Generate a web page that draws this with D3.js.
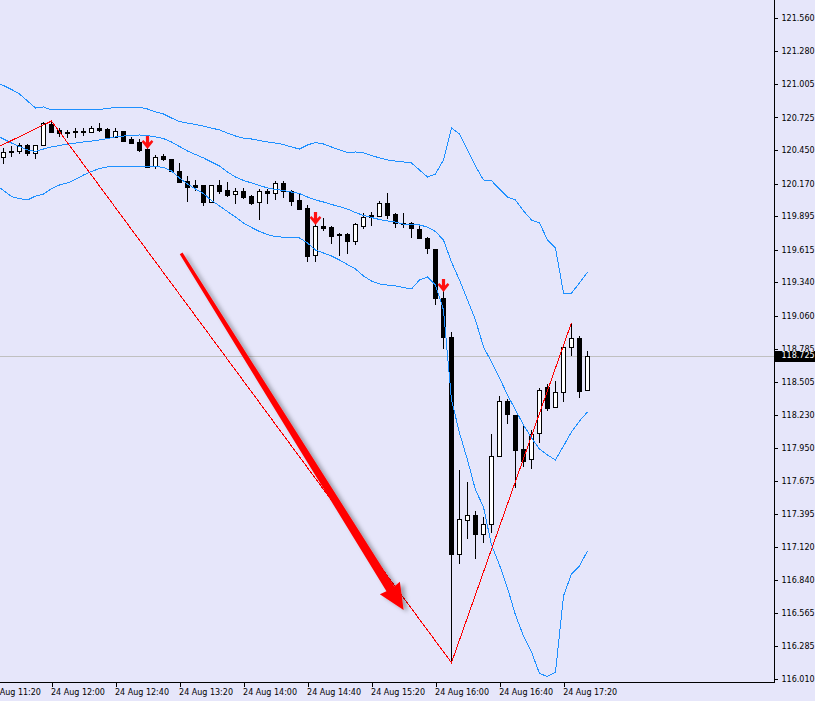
<!DOCTYPE html>
<html><head><meta charset="utf-8">
<script src="https://cdn.jsdelivr.net/npm/d3@7"></script>
<style>
html,body{margin:0;padding:0;background:#e6e6fa;overflow:hidden;}
svg{display:block;}
text{font-family:"DejaVu Sans",sans-serif;font-size:8px;fill:#000;}
</style></head><body>
<svg id="c" width="815" height="701"></svg>
<script>
const DAY = "2015-08-24";
const candleTimes = ["11:30","11:35","11:40","11:45","11:50","11:55",
"12:00","12:05","12:10","12:15","12:20","12:25","12:30","12:35","12:40","12:45","12:50","12:55",
"13:00","13:05","13:10","13:15","13:20","13:25","13:30","13:35","13:40","13:45","13:50","13:55",
"14:00","14:05","14:10","14:15","14:20","14:25","14:30","14:35","14:40","14:45","14:50","14:55",
"15:00","15:05","15:10","15:15","15:20","15:25","15:30","15:35","15:40","15:45","15:50","15:55",
"16:00","16:05","16:10","16:15","16:20","16:25","16:30","16:35","16:40","16:45","16:50","16:55",
"17:00","17:05","17:10","17:15","17:20","17:25","17:30","17:35"];
const openP = [120.395,120.443,120.443,120.494,120.424,120.491,
120.670,120.617,120.605,120.609,120.611,120.600,120.639,120.626,120.563,120.611,120.542,120.516,
120.458,120.317,120.401,120.374,120.275,120.191,120.158,120.158,120.018,120.158,120.116,120.080,
120.107,120.065,120.013,120.107,120.088,120.177,120.107,120.032,119.962,119.573,119.814,119.803,
119.746,119.746,119.685,119.816,119.903,119.900,120.004,119.914,119.839,119.839,119.788,119.713,
119.620,119.207,118.879,117.057,117.343,117.387,117.225,117.309,117.882,118.344,118.227,117.939,
117.855,118.073,118.459,118.291,118.417,118.795,118.871,118.434];
const highP = [120.468,120.485,120.508,120.502,120.494,120.689,
120.695,120.634,120.620,120.634,120.639,120.653,120.676,120.639,120.634,120.611,120.563,120.542,
120.466,120.410,120.416,120.374,120.345,120.233,120.200,120.158,120.158,120.200,120.186,120.130,
120.130,120.074,120.122,120.122,120.191,120.191,120.116,120.082,119.990,119.892,119.878,119.814,
119.757,119.757,119.841,119.925,119.934,120.023,120.093,119.920,119.925,119.847,119.830,119.725,
119.620,119.276,118.926,117.765,117.667,117.421,117.373,118.067,118.386,118.361,118.227,118.143,
118.101,118.451,118.487,118.512,118.795,119.002,118.890,118.764];
const lowP = [120.343,120.401,120.424,120.410,120.382,120.491,
120.605,120.569,120.558,120.558,120.578,120.600,120.611,120.558,120.563,120.530,120.508,120.446,
120.311,120.298,120.368,120.275,120.186,120.026,120.116,119.990,120.018,120.088,120.065,120.009,
120.046,119.998,119.872,120.009,120.040,120.060,119.990,119.959,119.522,119.522,119.780,119.673,
119.570,119.584,119.660,119.794,119.822,119.898,119.878,119.808,119.808,119.717,119.709,119.589,
119.156,118.787,116.147,116.982,117.196,117.023,117.158,117.247,117.882,118.157,117.620,117.801,
117.784,118.002,118.269,118.291,118.347,118.730,118.380,118.434];
const closeP = [120.437,120.435,120.491,120.424,120.494,120.676,
120.605,120.592,120.594,120.603,120.605,120.636,120.620,120.563,120.611,120.530,120.513,120.452,
120.311,120.395,120.374,120.275,120.186,120.141,120.144,120.018,120.158,120.110,120.074,120.107,
120.060,120.009,120.110,120.088,120.177,120.110,120.023,119.959,119.564,119.814,119.797,119.732,
119.736,119.690,119.828,119.892,119.892,120.004,119.906,119.841,119.828,119.793,119.709,119.626,
119.207,118.879,117.057,117.351,117.385,117.225,117.309,117.882,118.344,118.233,117.935,117.843,
118.065,118.437,118.288,118.417,118.795,118.871,118.431,118.725];

// Bollinger bands, one point per bar from 11:25
const bandTimes = ["11:25"].concat(candleTimes);
const bandUpper = [121.023,120.993,120.960,120.922,120.863,120.804,120.813,
120.788,120.788,120.788,120.788,120.788,120.792,120.793,120.800,120.810,120.810,120.810,120.810,
120.796,120.771,120.754,120.720,120.691,120.678,120.666,120.653,120.636,120.620,120.594,120.569,
120.552,120.544,120.531,120.519,120.510,120.498,120.477,120.460,120.494,120.515,120.502,120.477,
120.452,120.432,120.435,120.427,120.406,120.385,120.368,120.359,120.351,120.343,120.284,120.225,
120.250,120.368,120.636,120.586,120.452,120.317,120.200,120.194,120.124,120.057,120.032,119.940,
119.864,119.839,119.696,119.629,119.251,119.251,119.335,119.427];
const bandMiddle = [120.578,120.544,120.510,120.481,120.452,120.439,120.460,
120.477,120.489,120.502,120.510,120.519,120.527,120.536,120.548,120.561,120.569,120.573,120.578,
120.573,120.561,120.548,120.519,120.481,120.443,120.414,120.385,120.351,120.317,120.267,120.225,
120.196,120.175,120.154,120.133,120.120,120.112,120.099,120.086,120.057,120.032,120.015,119.994,
119.977,119.956,119.927,119.902,119.885,119.868,119.856,119.847,119.830,119.826,119.822,119.805,
119.767,119.696,119.511,119.360,119.192,119.024,118.798,118.672,118.537,118.395,118.269,118.143,
118.034,117.941,117.891,117.849,117.966,118.084,118.176,118.252];
const bandLower = [120.158,120.112,120.061,120.044,120.032,120.065,120.082,
120.128,120.158,120.175,120.204,120.242,120.271,120.296,120.309,120.313,120.317,120.317,120.317,
120.317,120.313,120.305,120.275,120.217,120.166,120.124,120.086,120.028,119.982,119.935,119.889,
119.839,119.801,119.767,119.742,119.725,119.719,119.719,119.713,119.671,119.612,119.587,119.562,
119.528,119.490,119.452,119.394,119.352,119.327,119.318,119.310,119.297,119.285,119.360,119.385,
119.318,119.108,118.353,118.076,117.849,117.597,117.454,117.135,116.967,116.774,116.547,116.371,
116.237,116.056,116.031,116.069,116.707,116.892,116.959,117.085];

// ZigZag pivots
const zigTimes = ["11:00","12:00","16:10","17:25"];
const zigPrices = [120.302,120.695,116.147,119.002];
// sell signal arrows
const sigTimes = ["13:00","14:45","16:05"];
const sigPrices = [120.458,119.822,119.262];
// drawn arrow object
const bigArrowTimes = ["13:21","15:40"];
const bigArrowPrices = [119.584,116.589];

const yTicks = [121.560,121.280,121.005,120.725,120.450,120.170,119.895,119.615,119.340,119.060,
118.785,118.505,118.230,117.950,117.675,117.395,117.120,116.840,116.565,116.285,116.010];
const xTicks = ["11:20","12:00","12:40","13:20","14:00","14:40","15:20","16:00","16:40","17:20"];
const lastPrice = 118.725;

// ---------- drawing ----------
const parse = d3.timeParse("%Y-%m-%d %H:%M");
const t = s => parse(DAY + " " + s);
const PR = 774, PB = 682;
const svg = d3.select("#c");
const x = d3.scaleTime().domain([t("11:28"), t("19:31")]).range([0.3, 773.3]);
const y = d3.scaleLinear().domain([116.010, 121.560]).range([679, 18]);
const cx = s => Math.floor(x(t(s))) + 0.5;

const defs = svg.append("defs");
defs.append("clipPath").attr("id","clip").append("rect").attr("x",0).attr("y",0).attr("width",PR).attr("height",PB);
const f = defs.append("filter").attr("id","sh").attr("x","-30%").attr("y","-30%").attr("width","160%").attr("height","160%");
f.append("feDropShadow").attr("dx",4).attr("dy",2).attr("stdDeviation",2.2).attr("flood-color","#000").attr("flood-opacity",0.32);

svg.append("rect").attr("width",815).attr("height",701).attr("fill","#e6e6fa");
const plot = svg.append("g").attr("clip-path","url(#clip)");

// last price line
const yl = Math.round(y(lastPrice)) + 0.5;
plot.append("line").attr("x1",0).attr("x2",PR).attr("y1",yl).attr("y2",yl)
  .attr("stroke","#c0c0c0").attr("stroke-width",1).attr("shape-rendering","crispEdges");

// candles
const candles = candleTimes.map((s,i)=>({s,o:openP[i],h:highP[i],l:lowP[i],c:closeP[i]}));
const cg = plot.append("g").attr("shape-rendering","crispEdges");
candles.forEach(d=>{
  const xc = Math.floor(x(t(d.s)));
  const yh = Math.round(y(d.h)), ylw = Math.round(y(d.l));
  const yt = Math.round(y(Math.max(d.o,d.c))), yb = Math.round(y(Math.min(d.o,d.c)));
  cg.append("rect").attr("x",xc).attr("y",yh).attr("width",1).attr("height",Math.max(1,ylw-yh+1)).attr("fill","#000");
  const hgt = Math.max(1, yb-yt+1);
  cg.append("rect").attr("x",xc-2).attr("y",yt).attr("width",5).attr("height",hgt).attr("fill","#000");
  if (d.c > d.o && hgt > 2) {
    cg.append("rect").attr("x",xc-1).attr("y",yt+1).attr("width",3).attr("height",hgt-2).attr("fill","#fff");
  }
});

// bands
const bandLine = vals => d3.line().x((d,i)=>cx(bandTimes[i])).y(d=>y(d))(vals);
[bandUpper, bandMiddle, bandLower].forEach(v=>{
  plot.append("path").attr("d", bandLine(v)).attr("fill","none").attr("stroke","#1e90ff")
    .attr("stroke-width",1).attr("shape-rendering","crispEdges");
});

// zigzag
plot.append("path").attr("d", d3.line().x((d,i)=>cx(zigTimes[i])).y(d=>y(d))(zigPrices))
  .attr("fill","none").attr("stroke","#ff0000").attr("stroke-width",1).attr("shape-rendering","crispEdges");

// signal arrows
sigTimes.forEach((s,i)=>{
  const ax = cx(s), ay = Math.round(y(sigPrices[i]));
  plot.append("path").attr("transform",`translate(${ax},${ay})`)
    .attr("d","M-1.6,-13 L1.6,-13 L1.6,-6.5 L4.2,-9 L5.8,-7.2 L0,0 L-5.8,-7.2 L-4.2,-9 L-1.6,-6.5 Z")
    .attr("fill","#ff1010");
});

// big drawn arrow
{
  const x0 = x(t(bigArrowTimes[0])), y0 = y(bigArrowPrices[0]);
  const x1 = x(t(bigArrowTimes[1])), y1 = y(bigArrowPrices[1]);
  const L = Math.hypot(x1-x0, y1-y0), ux = (x1-x0)/L, uy = (y1-y0)/L, nx = -uy, ny = ux;
  const bx = x1 - ux*25, by = y1 - uy*25;
  const P = (px,py,w)=>[px+nx*w, py+ny*w];
  const pts = [P(x0,y0,1.6), P(bx,by,4.6), P(bx-ux*1,by-uy*1,11.8), [x1,y1], P(bx-ux*1,by-uy*1,-11.8), P(bx,by,-4.6), P(x0,y0,-1.6)];
  plot.append("path").attr("d","M"+pts.map(p=>p[0].toFixed(2)+","+p[1].toFixed(2)).join("L")+"Z")
    .attr("fill","#ff0000").attr("filter","url(#sh)");
}

// axes
const ax = svg.append("g");
ax.append("line").attr("x1",PR+0.5).attr("x2",PR+0.5).attr("y1",0).attr("y2",PB+1)
  .attr("stroke","#000").attr("shape-rendering","crispEdges");
ax.append("line").attr("x1",0).attr("x2",PR+1).attr("y1",PB+0.5).attr("y2",PB+0.5)
  .attr("stroke","#000").attr("shape-rendering","crispEdges");

const yAxis = d3.axisRight(y).tickValues(yTicks).tickFormat(d3.format(".3f")).tickSize(3).tickPadding(4);
const gy = svg.append("g").attr("transform",`translate(${PR+0.5},0)`).call(yAxis);
gy.select(".domain").remove();
gy.selectAll("line").attr("stroke","#000").attr("shape-rendering","crispEdges");
gy.selectAll("text").attr("fill","#000");
gy.attr("font-family",null).attr("font-size",null);

const xAxis = d3.axisBottom(x).tickValues(xTicks.map(t)).tickFormat(d3.timeFormat("%d %b %H:%M")).tickSize(4);
const gx = svg.append("g").attr("transform",`translate(0,${PB+0.5})`).call(xAxis);
gx.select(".domain").remove();
gx.selectAll("line").attr("stroke","#000").attr("shape-rendering","crispEdges");
gx.selectAll("text").attr("text-anchor","start").attr("x",-1).attr("y",7).attr("fill","#000");
gx.attr("font-family",null).attr("font-size",null);

// last price label
svg.append("rect").attr("x",PR+1).attr("y",Math.round(y(lastPrice))-5).attr("width",40).attr("height",11).attr("fill","#000");
svg.append("text").attr("x",PR+7.5).attr("y",y(lastPrice)).attr("dy","0.34em")
  .style("fill","#fff").text(d3.format(".3f")(lastPrice));
</script>
</body></html>
